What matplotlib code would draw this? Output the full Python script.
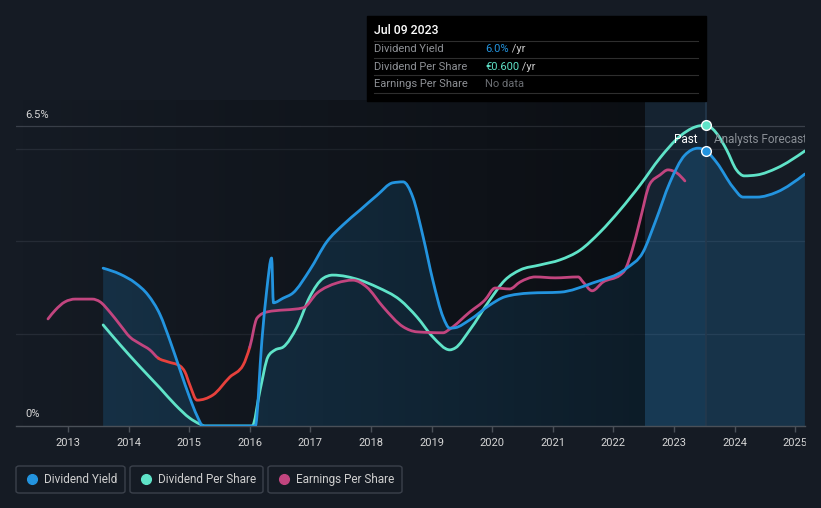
import numpy as np
import matplotlib
matplotlib.use("Agg")
import matplotlib.pyplot as plt
from matplotlib.patches import Rectangle, FancyBboxPatch, PathPatch
from matplotlib.path import Path

plt.rcParams['font.family'] = ['Roboto', 'DejaVu Sans']

# data (x in years, y in % of the plot scale)
yield_x = [2013.58, 2013.86, 2014.11, 2014.32, 2014.52, 2014.68, 2014.85, 2015.01, 2015.13, 2015.23,
           2016.09, 2016.20, 2016.28, 2016.36, 2016.39, 2016.55, 2016.71, 2016.99, 2017.27, 2017.54,
           2017.82, 2018.10, 2018.36, 2018.53, 2018.69, 2018.86, 2019.02, 2019.19, 2019.30, 2019.39,
           2019.63, 2019.96, 2020.21, 2020.62, 2021.12, 2021.66, 2022.22, 2022.49,
           2022.69, 2022.93, 2023.18, 2023.40, 2023.53, 2023.71, 2023.97, 2024.14, 2024.37, 2024.70,
           2025.16]
yield_y = [3.42, 3.29, 3.10, 2.84, 2.41, 1.86, 1.21, 0.61, 0.22, 0.0,
           0.0, 1.86, 2.95, 3.64, 2.67, 2.77, 2.88, 3.38, 3.99, 4.36,
           4.68, 5.00, 5.27, 5.29, 4.96, 4.10, 3.16, 2.36, 2.12, 2.13,
           2.30, 2.62, 2.80, 2.88, 2.90, 3.10, 3.42, 3.77,
           4.42, 5.27, 5.87, 6.02, 5.96, 5.70, 5.18, 4.96, 4.96, 5.07,
           5.46]

dps_x = [2013.58, 2013.86, 2014.19, 2014.52, 2014.77, 2015.01, 2015.18, 2015.26, 2016.04, 2016.17,
         2016.30, 2016.42, 2016.55, 2016.78, 2016.99, 2017.21, 2017.37, 2017.82, 2018.10, 2018.48,
         2018.76, 2019.02, 2019.30, 2019.39, 2019.63, 2019.96, 2020.21, 2020.46, 2020.79, 2021.12,
         2021.45, 2021.78, 2022.11, 2022.44, 2022.77, 2023.10, 2023.35, 2023.53, 2023.71, 2023.87,
         2024.03, 2024.16, 2024.37, 2024.70, 2025.16]
dps_y = [2.19, 1.76, 1.28, 0.82, 0.46, 0.17, 0.04, 0.0, 0.0, 0.78,
         1.50, 1.65, 1.71, 2.15, 2.80, 3.20, 3.27, 3.16, 3.01, 2.73,
         2.36, 1.93, 1.65, 1.69, 2.08, 2.73, 3.16, 3.38, 3.49, 3.60,
         3.81, 4.20, 4.68, 5.22, 5.81, 6.28, 6.48, 6.52, 6.33, 5.98,
         5.55, 5.42, 5.44, 5.59, 5.96]

eps_x = [2012.67, 2012.79, 2012.95, 2013.12, 2013.40, 2013.53, 2013.69, 2013.86, 2014.02, 2014.19,
         2014.35, 2014.49, 2014.65, 2014.85, 2014.93, 2015.01, 2015.13, 2015.39, 2015.67, 2015.89,
         2016.00, 2016.12, 2016.28, 2016.88, 2017.11, 2017.44, 2017.70, 2017.93, 2018.20, 2018.53,
         2018.76, 2019.19, 2019.30, 2019.63, 2019.88, 2020.05, 2020.29, 2020.46, 2020.71, 2021.04,
         2021.42, 2021.50, 2021.65, 2021.83, 2022.11, 2022.19, 2022.31, 2022.44, 2022.60, 2022.77,
         2022.90, 2023.05, 2023.18]
eps_y = [2.32, 2.51, 2.69, 2.75, 2.75, 2.69, 2.47, 2.19, 1.93, 1.78,
         1.65, 1.47, 1.39, 1.30, 1.17, 0.89, 0.56, 0.67, 1.06, 1.32,
         1.71, 2.34, 2.47, 2.56, 2.88, 3.10, 3.16, 3.01, 2.58, 2.15,
         2.04, 2.02, 2.10, 2.47, 2.73, 2.99, 2.97, 3.12, 3.23, 3.21,
         3.23, 3.12, 2.93, 3.12, 3.27, 3.38, 3.81, 4.46, 5.24, 5.44,
         5.55, 5.48, 5.31]
eps_red_from, eps_red_to = 2014.49, 2016.00

years = list(range(2013, 2026))
today = 2023.53
past_start = 2022.52

BG = '#151b24'
BLUE = '#2394df'
TEAL = '#5fe3c8'
MAGENTA = '#c2457f'
RED = '#e8413c'


def monotone_slopes(x, y):
    # tangents like d3's curveMonotoneX, so the drawn curve passes through the points
    x = np.asarray(x, float)
    y = np.asarray(y, float)
    h = np.diff(x)
    s = np.diff(y) / h
    m = np.zeros(len(x))
    for i in range(1, len(x) - 1):
        p = (s[i - 1] * h[i] + s[i] * h[i - 1]) / (h[i - 1] + h[i])
        m[i] = (np.sign(s[i - 1]) + np.sign(s[i])) * min(abs(s[i - 1]), abs(s[i]), 0.5 * abs(p))
    m[0] = (3 * s[0] - m[1]) / 2
    m[-1] = (3 * s[-1] - m[-2]) / 2
    return m


def curve_verts(x, y, i0=0, i1=None):
    x = np.asarray(x, float)
    y = np.asarray(y, float)
    m = monotone_slopes(x, y)
    if i1 is None:
        i1 = len(x) - 1
    verts = [(x[i0], y[i0])]
    codes = [Path.MOVETO]
    for i in range(i0, i1):
        d = (x[i + 1] - x[i]) / 3
        verts += [(x[i] + d, y[i] + m[i] * d), (x[i + 1] - d, y[i + 1] - m[i + 1] * d),
                  (x[i + 1], y[i + 1])]
        codes += [Path.CURVE4] * 3
    return verts, codes


def draw_curve(ax, x, y, color, zorder, i0=0, i1=None):
    v, c = curve_verts(x, y, i0, i1)
    ax.add_patch(PathPatch(Path(v, c), fc='none', ec=color, lw=2, zorder=zorder,
                           capstyle='round', joinstyle='round'))


W, H = 821, 508
fig = plt.figure(figsize=(W / 100, H / 100), dpi=100, facecolor=BG)


def fx(x):
    return x / W


def fy(y):
    return 1 - y / H


ax = fig.add_axes([fx(16), fy(426), (805 - 16) / W, (426 - 100) / H])
ax.set_facecolor(BG)
x0, x1 = 2012.142, 2025.162
ytop = (426 - 100) / 46.15

# grid lines
for g in [2, 4, 6]:
    ax.axhline(g, color='#262c36', lw=0.9, zorder=0.5)
ax.axhline(6.5, color='#3a404a', lw=0.9, zorder=0.5)

# area under dividend yield
v, c = curve_verts(yield_x, yield_y)
v += [(yield_x[-1], 0), (yield_x[0], 0), (yield_x[0], 0)]
c += [Path.LINETO, Path.LINETO, Path.CLOSEPOLY]
ax.add_patch(PathPatch(Path(v, c), fc=BLUE, alpha=0.2, lw=0, zorder=1))

# darkening gradient over the past period
grad = np.zeros((2, 256, 4))
grad[:, :, 3] = np.linspace(0, 0.45, 256)
ax.imshow(grad, extent=[x0, past_start, 0, ytop], aspect='auto', zorder=2,
          interpolation='bilinear')
ax.axvspan(past_start, today, color=BLUE, alpha=0.07, lw=0, zorder=2)
ax.axvline(today, color='#24384c', lw=1.2, zorder=2.5)
ax.set_xlim(x0, x1)
ax.set_ylim(0, ytop)

# lines
draw_curve(ax, dps_x, dps_y, TEAL, 3)
draw_curve(ax, yield_x, yield_y, BLUE, 3.2)
ia = eps_x.index(eps_red_from)
ib = eps_x.index(eps_red_to)
draw_curve(ax, eps_x, eps_y, MAGENTA, 3.1, 0, ia)
draw_curve(ax, eps_x, eps_y, RED, 3.1, ia, ib)
draw_curve(ax, eps_x, eps_y, MAGENTA, 3.1, ib, None)

# markers at the tooltip date
ax.plot([today], [dps_y[dps_x.index(today)]], 'o', ms=7, mfc=TEAL, mec='white', mew=1, zorder=5)
ax.plot([today], [yield_y[yield_x.index(today)]], 'o', ms=7, mfc=BLUE, mec='white', mew=1, zorder=5)

ax.text(2023.38, 6.2, 'Past', color='white', fontsize=8.5, ha='right', va='center', zorder=6)
ax.text(2023.66, 6.2, 'Analysts Forecasts', color='#8a8f96', fontsize=8.5, ha='left',
        va='center', zorder=6, clip_on=True)

# axes styling
for s in ['top', 'right', 'left']:
    ax.spines[s].set_visible(False)
ax.spines['bottom'].set_color('#4a5058')
ax.spines['bottom'].set_linewidth(1)
ax.set_yticks([])
ax.set_xticks(years)
ax.set_xticklabels([str(y) for y in years])
ax.tick_params(axis='x', colors='#4a5058', length=4, width=1, pad=5, labelsize=8,
               labelcolor='#d6d6d6')

# y labels
fig.text(fx(25), fy(115), '6.5%', color='#d6d6d6', fontsize=8, va='center', ha='left')
fig.text(fx(25), fy(414), '0%', color='#d6d6d6', fontsize=8, va='center', ha='left')

# cover clipped tick label at the right edge
fig.patches.append(Rectangle((fx(806), fy(452)), fx(W - 806), (452 - 428) / H,
                             transform=fig.transFigure, color=BG, zorder=10))

# tooltip
fig.patches.append(Rectangle((fx(367), fy(101)), fx(706 - 367), (101 - 16) / H,
                             transform=fig.transFigure, color='black', zorder=10))
fig.text(fx(374), fy(31), 'Jul 09 2023', color='white', fontsize=8.8, va='center',
         fontweight='medium', zorder=11)
for ly in [41, 58, 75, 93]:
    fig.add_artist(plt.Line2D([fx(374), fx(698)], [fy(ly), fy(ly)], color='#2e2e2e', lw=0.8,
                              transform=fig.transFigure, zorder=11))
rows = [('Dividend Yield', '6.0%', BLUE, ' /yr'),
        ('Dividend Per Share', '€0.600', TEAL, ' /yr'),
        ('Earnings Per Share', 'No data', '#6b6e73', '')]
for i, (lab, val, col, suf) in enumerate(rows):
    yy = fy(49 + i * 17.5)
    fig.text(fx(374), yy, lab, color='#8e9196', fontsize=8, va='center', zorder=11)
    t = fig.text(fx(485), yy, val, color=col, fontsize=8, va='center', zorder=11)
    if suf:
        fig.canvas.draw()
        bb = t.get_window_extent()
        fig.text(bb.x1 / W, yy, suf, color='#c8c8c8', fontsize=8, va='center', zorder=11)

# legend
legend = [('Dividend Yield', BLUE, 16, 125),
          ('Dividend Per Share', TEAL, 130, 263),
          ('Earnings Per Share', MAGENTA, 268, 402)]
for lab, col, xa, xb in legend:
    fig.patches.append(FancyBboxPatch((fx(xa), fy(493)), fx(xb - xa), (493 - 466) / H,
                                      boxstyle='round,pad=0,rounding_size=0.004',
                                      transform=fig.transFigure, fc='none', ec='#3b414b',
                                      lw=1, zorder=10))
    fig.add_artist(plt.Line2D([fx(xa + 16)], [fy(479)], marker='o', ms=7, color=col, lw=0,
                              transform=fig.transFigure, zorder=11))
    fig.text(fx(xa + 28), fy(479.5), lab, color='#cfcfcf', fontsize=8.5, va='center', zorder=11)

fig.savefig('out.png', dpi=100, facecolor=BG)
